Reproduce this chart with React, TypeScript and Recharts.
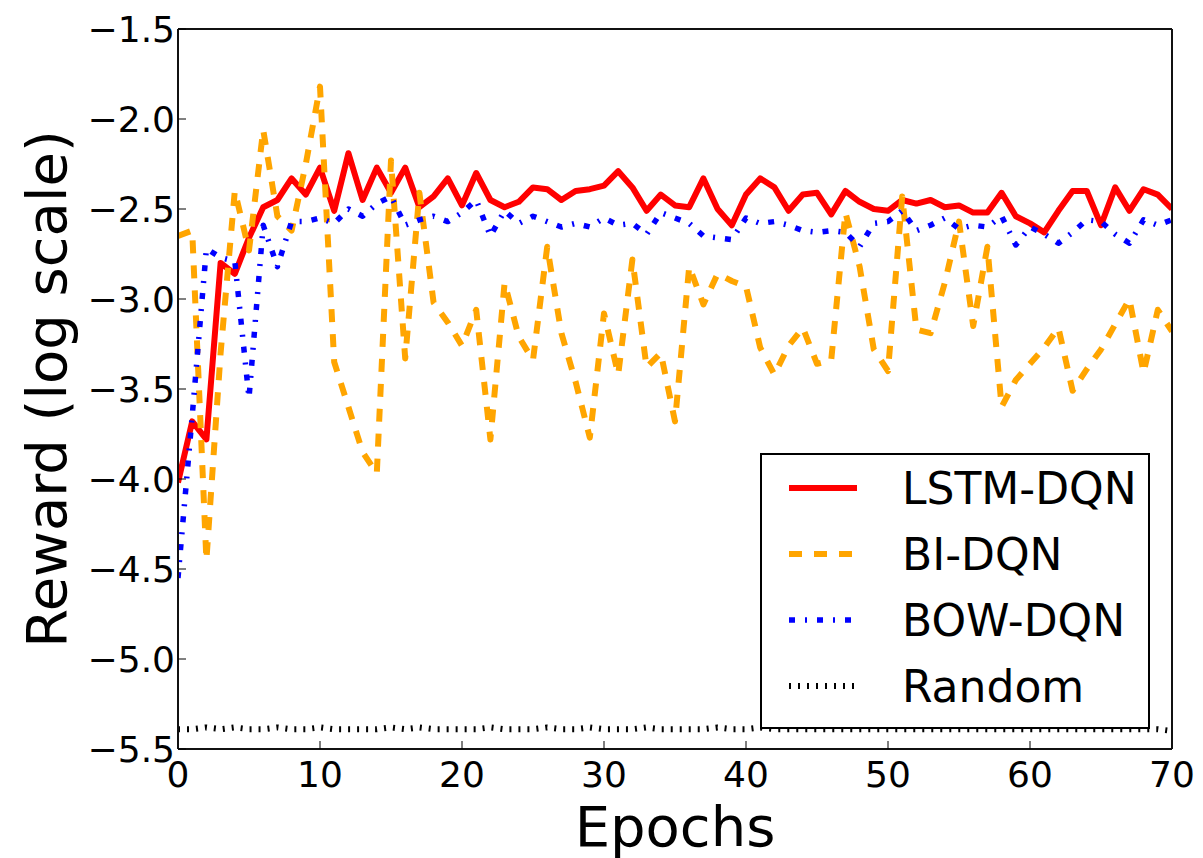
import React from 'react';
import { LineChart, Line, XAxis, YAxis } from 'recharts';

const epochs = [
  0, 1, 2, 3, 4, 5, 6, 7, 8, 9, 10, 11, 12, 13, 14, 15, 16, 17, 18, 19, 20,
  21, 22, 23, 24, 25, 26, 27, 28, 29, 30, 31, 32, 33, 34, 35, 36, 37, 38, 39, 40,
  41, 42, 43, 44, 45, 46, 47, 48, 49, 50, 51, 52, 53, 54, 55, 56, 57, 58, 59, 60,
  61, 62, 63, 64, 65, 66, 67, 68, 69, 70,
];

const lstmDqn = [
  -4.02, -3.68, -3.78, -2.80, -2.86, -2.66, -2.49, -2.45, -2.33, -2.42, -2.27,
  -2.51, -2.19, -2.45, -2.27, -2.41, -2.27, -2.49, -2.43, -2.33, -2.48,
  -2.30, -2.45, -2.49, -2.46, -2.38, -2.39, -2.45, -2.40, -2.39, -2.37,
  -2.29, -2.38, -2.51, -2.42, -2.48, -2.49, -2.33, -2.50, -2.59, -2.42,
  -2.33, -2.38, -2.51, -2.42, -2.41, -2.53, -2.40, -2.46, -2.50, -2.51,
  -2.45, -2.47, -2.45, -2.49, -2.48, -2.52, -2.52, -2.41, -2.54, -2.58,
  -2.63, -2.51, -2.40, -2.40, -2.59, -2.38, -2.51, -2.39, -2.42, -2.50,
];

const biDqn = [
  -2.65, -2.62, -4.45, -3.30, -2.40, -2.73, -2.06, -2.54, -2.62, -2.25, -1.82,
  -3.35, -3.60, -3.85, -3.97, -2.23, -3.33, -2.41, -3.02, -3.13, -3.26,
  -3.06, -3.78, -2.91, -3.21, -3.34, -2.71, -3.19, -3.46, -3.77, -3.08,
  -3.42, -2.78, -3.38, -3.30, -3.68, -2.82, -3.03, -2.86, -2.90, -2.93,
  -3.27, -3.42, -3.26, -3.16, -3.36, -3.34, -2.52, -2.82, -3.28, -3.40,
  -2.43, -3.17, -3.19, -2.91, -2.57, -3.15, -2.71, -3.60, -3.45, -3.36,
  -3.27, -3.16, -3.51, -3.39, -3.28, -3.14, -3.00, -3.41, -3.06, -3.18,
];

const bowDqn = [
  -4.55, -3.65, -2.72, -2.77, -2.79, -3.55, -2.59, -2.82, -2.57, -2.57, -2.55,
  -2.58, -2.50, -2.54, -2.47, -2.43, -2.59, -2.56, -2.54, -2.57, -2.52,
  -2.45, -2.65, -2.51, -2.58, -2.54, -2.57, -2.60, -2.58, -2.60, -2.55,
  -2.59, -2.58, -2.64, -2.52, -2.55, -2.58, -2.65, -2.66, -2.67, -2.55,
  -2.58, -2.57, -2.59, -2.62, -2.63, -2.62, -2.63, -2.71, -2.58, -2.57,
  -2.51, -2.62, -2.59, -2.55, -2.61, -2.59, -2.60, -2.54, -2.70, -2.60,
  -2.64, -2.69, -2.63, -2.56, -2.57, -2.64, -2.69, -2.56, -2.59, -2.56,
];

const randomAgent = [
  -5.39, -5.39, -5.38, -5.39, -5.38, -5.39, -5.39, -5.38, -5.39, -5.39, -5.38,
  -5.39, -5.39, -5.39, -5.39, -5.38, -5.39, -5.38, -5.39, -5.39, -5.39,
  -5.39, -5.38, -5.39, -5.39, -5.39, -5.38, -5.39, -5.39, -5.38, -5.39,
  -5.39, -5.39, -5.38, -5.39, -5.39, -5.39, -5.39, -5.38, -5.39, -5.39,
  -5.38, -5.39, -5.39, -5.39, -5.39, -5.39, -5.39, -5.39, -5.39, -5.39,
  -5.39, -5.39, -5.39, -5.39, -5.39, -5.39, -5.39, -5.39, -5.39, -5.39,
  -5.39, -5.39, -5.39, -5.39, -5.39, -5.39, -5.39, -5.39, -5.39, -5.40,
];

const xTicks = [0, 10, 20, 30, 40, 50, 60, 70];
const yTicks = [-5.5, -5.0, -4.5, -4.0, -3.5, -3.0, -2.5, -2.0, -1.5];

const seriesNames = ['LSTM-DQN', 'BI-DQN', 'BOW-DQN', 'Random'];
const seriesKeys = ['lstm', 'bi', 'bow', 'random'];
const seriesColors = ['#ff0000', '#ffa500', '#0000ff', '#000000'];
const seriesWidths = [6, 6, 5.5, 6];
const seriesDashes = [undefined, '13 12', '6 10 2 10', '2 7'];

const data = epochs.map((e, i) => ({
  epoch: e,
  lstm: lstmDqn[i],
  bi: biDqn[i],
  bow: bowDqn[i],
  random: randomAgent[i],
}));

const FONT = "'DejaVu Sans', sans-serif";

const fmtY = (v: number) => (v < 0 ? '\u2212' : '') + Math.abs(v).toFixed(1);

const YLabel = (props: any) => {
  const vb = props.viewBox || {};
  const cy = (vb.y || 0) + (vb.height || 0) / 2;
  const cx = 66;
  return (
    <text
      x={cx}
      y={cy}
      transform={`rotate(-90 ${cx} ${cy})`}
      textAnchor="middle"
      fontSize={56}
      fill="#000"
      fontFamily={FONT}
    >
      Reward (log scale)
    </text>
  );
};

const LegendBox = () => (
  <div
    style={{
      position: 'absolute',
      left: 760,
      top: 453,
      width: 386,
      height: 272,
      border: '2px solid #000',
      background: '#fff',
      fontFamily: FONT,
    }}
  >
    {seriesNames.map((name, i) => (
      <div
        key={name}
        style={{
          position: 'absolute',
          left: 25,
          top: 33 + 66 * i - 30,
          height: 60,
          display: 'flex',
          alignItems: 'center',
        }}
      >
        <svg width={72} height={20} style={{ display: 'block' }}>
          <line
            x1={2}
            y1={10}
            x2={70}
            y2={10}
            stroke={seriesColors[i]}
            strokeWidth={seriesWidths[i]}
            strokeDasharray={seriesDashes[i]}
          />
        </svg>
        <span style={{ marginLeft: 43, fontSize: 44, color: '#000', whiteSpace: 'nowrap' }}>{name}</span>
      </div>
    ))}
  </div>
);

export default function App() {
  return (
    <div style={{ position: 'absolute', left: 0, top: 0, width: 1203, height: 858, background: '#fff' }}>
      <LineChart
        width={1203}
        height={858}
        data={data}
        margin={{ top: 28, right: 30, bottom: 0, left: 0 }}
        style={{ fontFamily: FONT }}
      >
        <XAxis
          dataKey="epoch"
          type="number"
          domain={[0, 70]}
          ticks={xTicks}
          interval={0}
          height={109}
          tickSize={-8}
          tickMargin={20}
          tick={{ fontSize: 36, fill: '#000', fontFamily: FONT }}
          axisLine={{ stroke: '#111', strokeWidth: 2 }}
          tickLine={{ stroke: '#000', strokeWidth: 1 }}
          allowDataOverflow
          label={{ value: 'Epochs', position: 'insideBottom', offset: 12, style: { fontSize: 56, fill: '#000', fontFamily: FONT } }}
        />
        <XAxis
          xAxisId="top"
          orientation="top"
          dataKey="epoch"
          type="number"
          domain={[0, 70]}
          ticks={xTicks}
          interval={0}
          height={1}
          tickSize={-8}
          tick={false}
          axisLine={{ stroke: '#111', strokeWidth: 2 }}
          tickLine={{ stroke: '#000', strokeWidth: 1 }}
        />
        <YAxis
          type="number"
          domain={[-5.5, -1.5]}
          ticks={yTicks}
          interval={0}
          width={178}
          tickSize={-8}
          tickMargin={11}
          tickFormatter={fmtY}
          tick={{ fontSize: 36, fill: '#000', fontFamily: FONT }}
          axisLine={{ stroke: '#111', strokeWidth: 2 }}
          tickLine={{ stroke: '#000', strokeWidth: 1 }}
          allowDataOverflow
          label={<YLabel />}
        />
        <YAxis
          yAxisId="right"
          orientation="right"
          type="number"
          domain={[-5.5, -1.5]}
          ticks={yTicks}
          interval={0}
          width={1}
          tickSize={-8}
          tick={false}
          axisLine={{ stroke: '#111', strokeWidth: 2 }}
          tickLine={{ stroke: '#000', strokeWidth: 1 }}
        />
        {seriesKeys.map((k, i) => (
          <Line
            key={k}
            type="linear"
            dataKey={k}
            name={seriesNames[i]}
            stroke={seriesColors[i]}
            strokeWidth={seriesWidths[i]}
            strokeDasharray={seriesDashes[i]}
            strokeLinejoin="round"
            dot={false}
            activeDot={false}
            isAnimationActive={false}
          />
        ))}
      </LineChart>
      <LegendBox />
    </div>
  );
}
